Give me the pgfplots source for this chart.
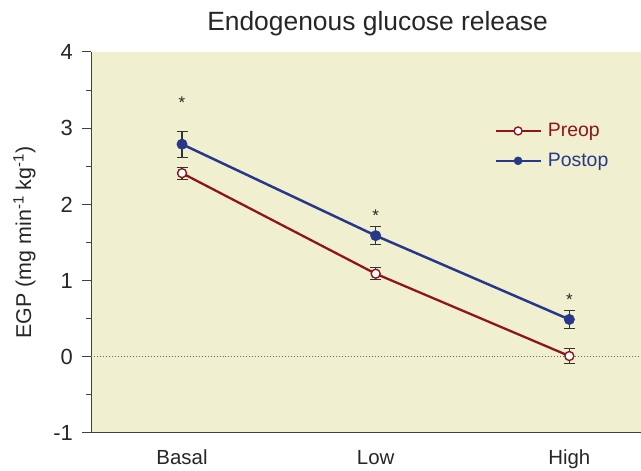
\documentclass[border=0pt]{standalone}
\usepackage{pgfplots}
\pgfplotsset{compat=1.18}
\usepackage{fontspec}
\setmainfont{Liberation Sans}
\definecolor{preop}{RGB}{142,20,30}
\definecolor{postop}{RGB}{40,55,138}
\definecolor{bgc}{RGB}{240,240,208}
\begin{document}
\begin{tikzpicture}
\begin{axis}[
  scale only axis, width=550bp, height=381bp,
  xmin=-0.47, xmax=2.37, ymin=-1, ymax=4,
  axis x line*=bottom, axis y line*=left,
  axis line style={black!75, line width=1pt},
  axis background/.style={fill=bgc},
  xtick={0,1,2}, xticklabels={Basal,Low,High},
  major x tick style={draw=none},
  ytick={-1,0,1,2,3,4},
  minor ytick={-0.5,0.5,1.5,2.5,3.5},
  tick align=outside,
  major tick length=9bp, minor tick length=5bp,
  tick style={black!75, line width=1pt},
  /pgf/number format/assume math mode=true,
  ticklabel style={text=black!85},
  xticklabel style={font=\fontsize{20.5}{22}\selectfont, anchor=base, yshift=-23bp},
  yticklabel style={font=\fontsize{22}{24}\selectfont, anchor=east, inner sep=0pt, xshift=-9bp},
  ylabel={EGP (mg min\textsuperscript{-1} kg\textsuperscript{-1})},
  ylabel style={font=\fontsize{21.5}{23}\selectfont, text=black!85,
    at={(axis description cs:-0.109,0.5)}, anchor=base, rotate=0},
  title={Endogenous glucose release},
  title style={font=\fontsize{26.5}{29}\selectfont, text=black!85,
    at={(axis description cs:0.521,1)}, anchor=base, yshift=16bp},
  clip=false,
  legend style={draw=none, fill=none, at={(0.733,0.818)}, anchor=north west,
    font=\fontsize{19.5}{21}\selectfont, row sep=11bp, inner sep=0pt,
    nodes={inner sep=2bp}},
  legend cell align=left,
  legend image code/.code={
    \draw[#1, mark=none] (0bp,0bp) -- (45bp,0bp);
    \draw[#1, mark size=4bp] plot coordinates {(22.5bp,0bp)};
    \path (49bp,0bp);
  },
  error bars/y dir=both, error bars/y explicit,
  error bars/error bar style={black!80, line width=1.1pt},
  error bars/error mark options={rotate=90, mark size=5.5bp, black!80, line width=1.1pt},
]
\draw[black!60, dotted, line width=1pt] (axis cs:-0.47,0) -- (axis cs:2.37,0);
\addplot[preop, line width=2.3pt, mark=*, mark size=4.5bp, mark options={fill=white, line width=1.4pt}]
  coordinates {(0,2.41) +- (0,0.08) (1,1.09) +- (0,0.08) (2,0.01) +- (0,0.10)};
\addlegendentry{\textcolor{preop}{Preop}}
\addplot[postop, line width=2.5pt, mark=*, mark size=5.2bp, mark options={fill=postop, line width=0.5pt}]
  coordinates {(0,2.79) +- (0,0.17) (1,1.59) +- (0,0.12) (2,0.49) +- (0,0.12)};
\addlegendentry{\textcolor{postop}{Postop}}
\node[font=\fontsize{17}{18}\selectfont, text=black!85] at (axis cs:0,3.33) {*};
\node[font=\fontsize{17}{18}\selectfont, text=black!85] at (axis cs:1,1.85) {*};
\node[font=\fontsize{17}{18}\selectfont, text=black!85] at (axis cs:2,0.75) {*};
\end{axis}
\pgfresetboundingbox
\path ([xshift=-91bp,yshift=-38bp]current axis.south west) rectangle ([yshift=52bp]current axis.north east);
\end{tikzpicture}
\end{document}
